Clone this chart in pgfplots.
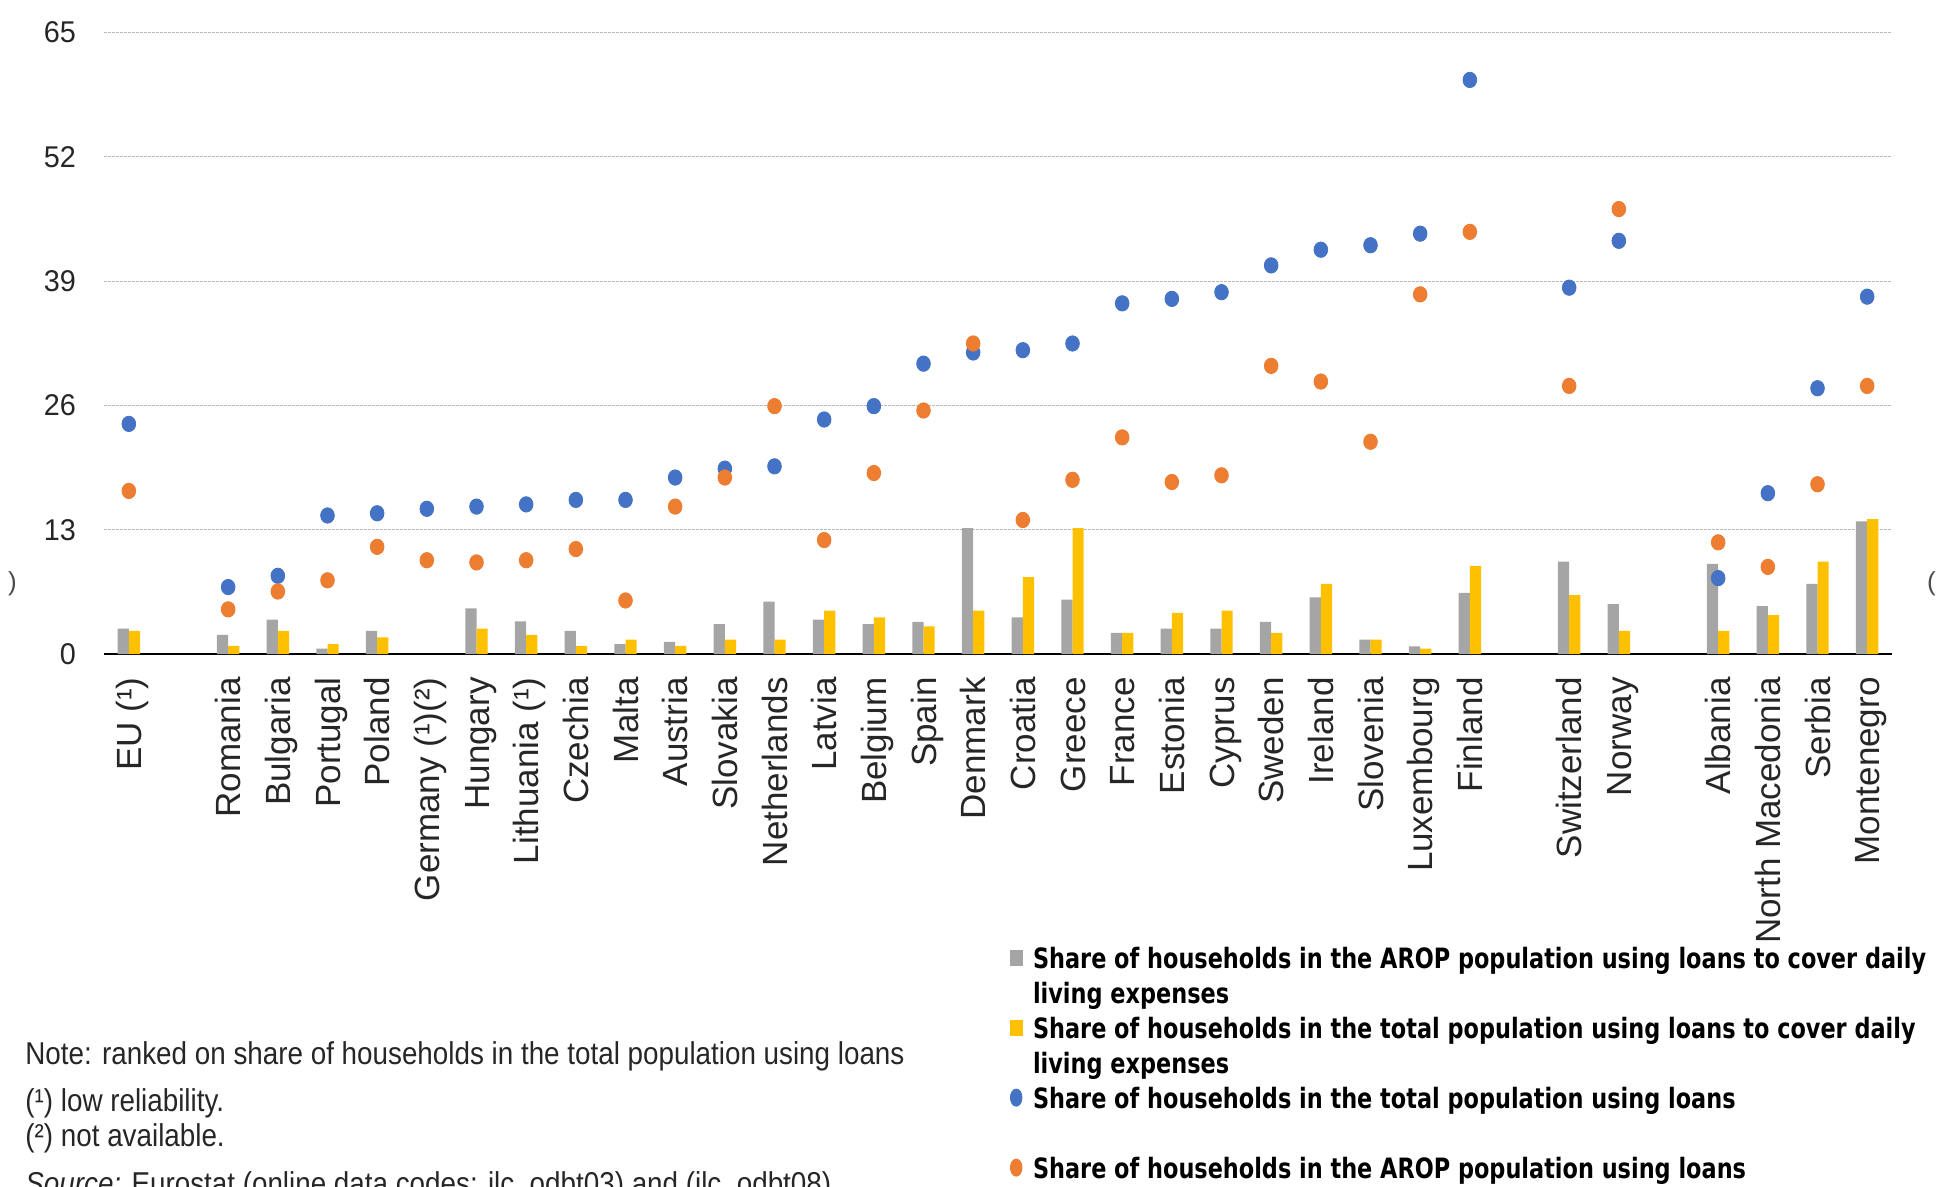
\documentclass[border=0pt]{standalone}
\usepackage{pgfplots}
\pgfplotsset{compat=1.18}
\usepackage{fontspec}
\setmainfont{Liberation Sans}
\newfontfamily\narrowfont[FakeStretch=0.88]{Liberation Sans}
\newfontfamily\tickfont[FakeStretch=0.96]{Liberation Sans}
\newfontfamily\legendfont[FakeStretch=0.80]{DejaVu Sans}

\definecolor{aropbar}{HTML}{A5A5A5}
\definecolor{totbar}{HTML}{FFC000}
\definecolor{totdot}{HTML}{4472C4}
\definecolor{aropdot}{HTML}{ED7D31}

\begin{document}
\begin{tikzpicture}
\begin{axis}[
  at={(52pt,-327pt)}, anchor=south west,
  scale only axis, width=894pt, height=310.7pt,
  xmin=-0.5, xmax=35.5, ymin=0, ymax=65,
  axis x line*=bottom, axis y line*=left,
  y axis line style={draw=none},
  x axis line style={black, line width=0.7pt},
  ytick={0,13,26,39,52,65}, ytick style={draw=none},
  ymajorgrids, grid style={gray!55, line width=0.5pt, dash pattern=on 1.5pt off 0.5pt},
  yticklabel style={font=\tickfont\fontsize{15}{17}\selectfont, text=black!85},
  yticklabel shift=10.5pt,
  /pgf/number format/assume math mode=true,
  xtick={0,...,35}, major x tick style={draw=none},
  xticklabels={EU (¹),{},Romania,Bulgaria,Portugal,Poland,Germany (¹)(²),Hungary,Lithuania (¹),Czechia,Malta,Austria,Slovakia,Netherlands,Latvia,Belgium,Spain,Denmark,Croatia,Greece,France,Estonia,Cyprus,Sweden,Ireland,Slovenia,Luxembourg,Finland,{},Switzerland,Norway,{},Albania,North Macedonia,Serbia,Montenegro},
  xticklabel style={rotate=90, anchor=east, inner sep=0pt, text height=12.5pt, text depth=0pt,
    font=\fontsize{17.5}{20}\selectfont, text=black!85},
  xticklabel shift=11.5pt,
  extra x ticks={-0.5,0.5,...,35.5}, extra x tick labels={},
  extra x tick style={grid=none, tick align=outside, major tick length=5.6pt,
    tick style={black, line width=0.7pt, draw=black}},
  legend cell align=left,
  legend style={at={(axis description cs:0.50671,-0.46588)}, anchor=north west,
    draw=none, fill=none, inner sep=0pt, outer sep=0pt, row sep=0pt, column sep=5pt,
    font=\legendfont\bfseries\fontsize{14}{17.5}\selectfont,
    nodes={inner sep=0pt, outer sep=0pt, text height=12.25pt, text depth=5.25pt},
    cells={anchor=base west}},
]
\addplot[ybar, bar width=5.6pt, bar shift=-2.8pt, fill=aropbar, draw=none,
  legend image code/.code={\fill[aropbar] (0pt,1pt) rectangle (6.4pt,9.2pt);}]
  coordinates {(0,2.66) (2,2.0) (3,3.6) (4,0.56) (5,2.43) (7,4.77) (8,3.41) (9,2.43) (10,1.03) (11,1.26) (12,3.13) (13,5.47) (14,3.6) (15,3.13) (16,3.36) (17,13.18) (18,3.83) (19,5.7) (20,2.2) (21,2.66) (22,2.66) (23,3.36) (24,5.93) (25,1.5) (26,0.79) (27,6.4) (29,9.67) (30,5.23) (32,9.44) (33,5.0) (34,7.34) (35,13.88)};
\addlegendentry{Share of households in the AROP population using loans to cover daily}
\addlegendimage{empty legend}
\addlegendentry{living expenses}
\addplot[ybar, bar width=5.6pt, bar shift=2.8pt, fill=totbar, draw=none,
  legend image code/.code={\fill[totbar] (0pt,1pt) rectangle (6.4pt,9.2pt);}]
  coordinates {(0,2.43) (2,0.84) (3,2.43) (4,1.03) (5,1.73) (7,2.66) (8,2.0) (9,0.84) (10,1.5) (11,0.84) (12,1.5) (13,1.5) (14,4.53) (15,3.83) (16,2.9) (17,4.53) (18,8.04) (19,13.18) (20,2.2) (21,4.3) (22,4.53) (23,2.2) (24,7.34) (25,1.5) (26,0.56) (27,9.21) (29,6.17) (30,2.43) (32,2.43) (33,4.07) (34,9.67) (35,14.11)};
\addlegendentry{Share of households in the total population using loans to cover daily}
\addlegendimage{empty legend}
\addlegendentry{living expenses}
\addplot[only marks, mark=*, color=totdot, mark size=3.85pt, mark options={xscale=0.89},
  legend image code/.code={\fill[totdot] (3pt,5.2pt) ellipse [x radius=2.9pt, y radius=4.3pt];}]
  coordinates {(0,24.07) (2,7.0) (3,8.18) (4,14.49) (5,14.72) (6,15.19) (7,15.42) (8,15.65) (9,16.12) (10,16.12) (11,18.46) (12,19.39) (13,19.63) (14,24.53) (15,25.93) (16,30.37) (17,31.54) (18,31.78) (19,32.48) (20,36.68) (21,37.15) (22,37.85) (23,40.65) (24,42.29) (25,42.76) (26,43.97) (27,60.05) (29,38.32) (30,43.22) (32,7.94) (33,16.82) (34,27.8) (35,37.38)};
\addlegendentry{Share of households in the total population using loans}
\addlegendimage{empty legend}
\addlegendentry{}
\addplot[only marks, mark=*, color=aropdot, mark size=3.85pt, mark options={xscale=0.89},
  legend image code/.code={\fill[aropdot] (3pt,5.2pt) ellipse [x radius=2.9pt, y radius=4.3pt];}]
  coordinates {(0,17.06) (2,4.67) (3,6.54) (4,7.71) (5,11.21) (6,9.81) (7,9.58) (8,9.81) (9,10.98) (10,5.6) (11,15.42) (12,18.46) (13,25.93) (14,11.92) (15,18.93) (16,25.47) (17,32.48) (18,14.02) (19,18.22) (20,22.66) (21,17.99) (22,18.69) (23,30.14) (24,28.5) (25,22.2) (26,37.62) (27,44.16) (29,28.04) (30,46.54) (32,11.68) (33,9.11) (34,17.76) (35,28.04)};
\addlegendentry{Share of households in the AROP population using loans}
\end{axis}
\begin{scope}[every node/.style={anchor=base west, inner sep=0pt, text=black!85,
    font=\narrowfont\fontsize{15.8}{18}\selectfont}]
\node at (12.5pt,-532pt) {Note: ranked on share of households in the total population using loans};
\node at (12.5pt,-555.5pt) {(¹) low reliability.};
\node at (12.5pt,-573pt) {(²) not available.};
\node at (12.5pt,-597.3pt) {\textit{Source:} Eurostat (online data codes: ilc\_odbt03) and (ilc\_odbt08)};
\end{scope}
\node[anchor=base east, inner sep=0pt, text=black!70, font=\fontsize{13}{15}\selectfont] at (8.6pt,-295pt) {)};
\node[anchor=base west, inner sep=0pt, text=black!70, font=\fontsize{13}{15}\selectfont] at (963.4pt,-295pt) {(};
\pgfresetboundingbox
\useasboundingbox (0pt,0pt) rectangle (968pt,-593.5pt);
\end{tikzpicture}
\end{document}
